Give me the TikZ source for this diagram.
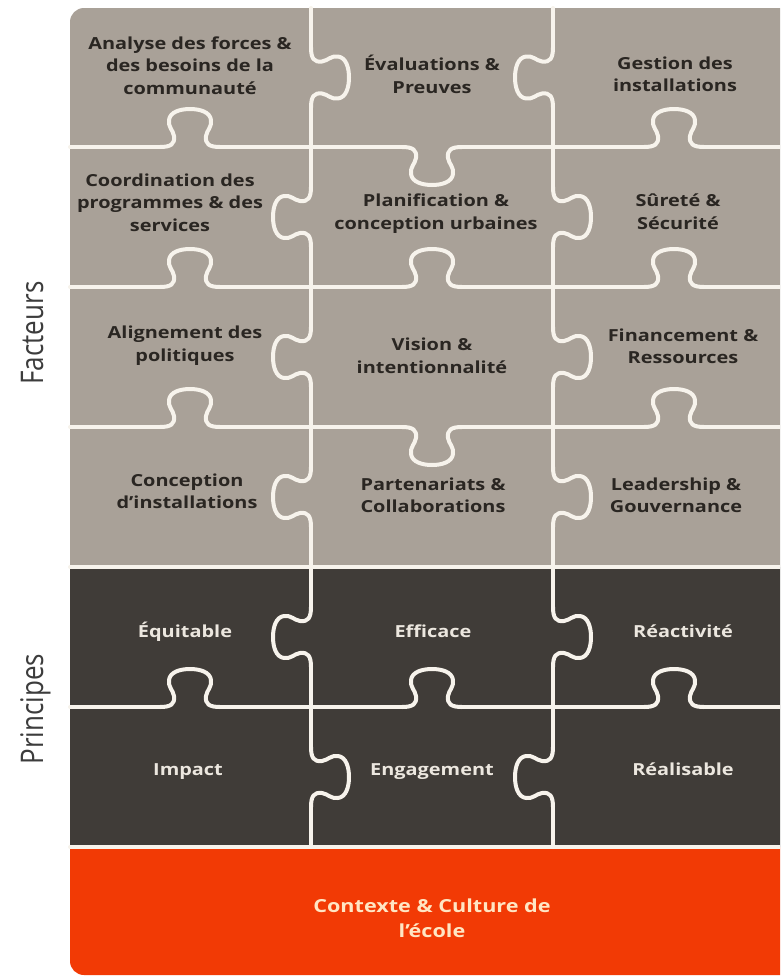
\documentclass[tikz,border=0pt]{standalone}
\usepackage{fontspec}
\usepackage{graphicx}
\newfontfamily\lblfont{Open Sans}[FakeStretch=1.2]
\newfontfamily\sidefont{Open Sans}
\definecolor{beige}{HTML}{A9A198}
\definecolor{darkp}{HTML}{403C38}
\definecolor{orangep}{HTML}{F23A05}
\definecolor{seamc}{HTML}{F7F3EC}
\definecolor{txtd}{HTML}{2A2622}
\definecolor{txtl}{HTML}{ECE7DF}
\definecolor{txto}{HTML}{FFE6C4}
\definecolor{sidec}{HTML}{3C3C3C}
\begin{document}
\begin{tikzpicture}[x=1pt,y=-1pt,
  seam/.style={draw=seamc, line width=4pt, line cap=round, line join=round},
  knob/.pic={\path[seam] (-30,0) .. controls (-19,0) and (-15,3) .. (-16,11)
      .. controls (-17,17) and (-22,20) .. (-21,27)
      .. controls (-20,35) and (-10,38) .. (0,38)
      .. controls (10,38) and (20,35) .. (21,27)
      .. controls (22,20) and (17,17) .. (16,11)
      .. controls (15,3) and (19,0) .. (30,0);},
  lbl/.style={align=center, text=txtd, inner sep=0pt,
      font=\lblfont\bfseries\fontsize{16.6}{22.5}\selectfont},
  lbll/.style={lbl, text=txtl, anchor=base},
  lblo/.style={align=center, text=txto, inner sep=0pt,
      font=\lblfont\bfseries\fontsize{18}{25}\selectfont},
  side/.style={rotate=90, anchor=base, text=sidec, inner sep=0pt,
      font=\sidefont\fontsize{26}{30}\selectfont}]
\useasboundingbox (0,0) rectangle (780,980);
\fill[white] (0,0) rectangle (780,980);
\clip (0,0) rectangle (780,980);
% panels
\begin{scope}
\clip[rounded corners=14pt] (70,8) rectangle (830,975);
\fill[beige] (60,0) rectangle (830,567);
\fill[darkp] (60,567) rectangle (830,847);
\fill[orangep] (60,847) rectangle (830,985);
\end{scope}
% horizontal seams
\path[seam] (70,147)--(160,147) (220,147)--(402,147) (462,147)--(644,147) (704,147)--(800,147);
\path[seam] (70,287)--(160,287) (220,287)--(402,287) (462,287)--(644,287) (704,287)--(800,287);
\path[seam] (70,427)--(160,427) (220,427)--(402,427) (462,427)--(644,427) (704,427)--(800,427);
\path[seam] (70,707)--(160,707) (220,707)--(402,707) (462,707)--(644,707) (704,707)--(800,707);
\path[seam] (70,567)--(800,567);
\path[seam] (70,847)--(800,847);
\pic[yscale=-1] at (190,147) {knob};
\pic at (432,147) {knob};
\pic[yscale=-1] at (674,147) {knob};
\pic[yscale=-1] at (190,287) {knob};
\pic[yscale=-1] at (432,287) {knob};
\pic[yscale=-1] at (674,287) {knob};
\pic[yscale=-1] at (190,427) {knob};
\pic at (432,427) {knob};
\pic[yscale=-1] at (674,427) {knob};
\pic[yscale=-1] at (190,707) {knob};
\pic[yscale=-1] at (432,707) {knob};
\pic[yscale=-1] at (674,707) {knob};
% vertical seams
\foreach \xx in {311,553}{
  \path[seam] (\xx,8)--(\xx,47.5) (\xx,107.5)--(\xx,187) (\xx,247)--(\xx,327)
     (\xx,387)--(\xx,467) (\xx,527)--(\xx,607) (\xx,667)--(\xx,747) (\xx,807)--(\xx,847);
}
\pic[rotate=90] at (311,77.5) {knob};
\pic[rotate=-90] at (311,217) {knob};
\pic[rotate=-90] at (311,357) {knob};
\pic[rotate=-90] at (311,497) {knob};
\pic[rotate=-90] at (311,637) {knob};
\pic[rotate=90] at (311,777) {knob};
\pic[rotate=-90] at (553,77.5) {knob};
\pic[rotate=90] at (553,217) {knob};
\pic[rotate=90] at (553,357) {knob};
\pic[rotate=90] at (553,497) {knob};
\pic[rotate=90] at (553,637) {knob};
\pic[rotate=-90] at (553,777) {knob};
% labels
\node[lbl] (a1) at (190,65.5) {Analyse des forces \&\\des besoins de la\\communauté};
\node[lbl] (a2) at (432,74.5) {Évaluations \&\\Preuves};
\node[lbl] (a3) at (675,74.5) {Gestion des\\installations};
\node[lbl] (b1) at (170,202.5) {Coordination des\\programmes \& des\\services};
\node[lbl] (b2) at (436,213.5) {Planification \&\\conception urbaines};
\node[lbl] (b3) at (678,211.5) {Sûreté \&\\Sécurité};
\node[lbl] (c1) at (185,345.5) {Alignement des\\politiques};
\node[lbl] (c2) at (432,356) {Vision \&\\intentionnalité};
\node[lbl] (c3) at (683,346.5) {Financement \&\\Ressources};
\node[lbl] (d1) at (187,491.5) {Conception\\d’installations};
\node[lbl] (d2) at (433,495.5) {Partenariats \&\\Collaborations};
\node[lbl] (d3) at (676,495.5) {Leadership \&\\Gouvernance};
\node[lbll] (e1) at (185,637) {Équitable};
\node[lbll] (e2) at (433,637) {Efficace};
\node[lbll] (e3) at (683,637) {Réactivité};
\node[lbll] (f1) at (188,775) {Impact};
\node[lbll] (f2) at (432,775) {Engagement};
\node[lbll] (f3) at (683,775) {Réalisable};
\node[lblo] (g1) at (432,918) {Contexte \& Culture de\\l’école};
\node[side] (s1) at (43,333) {\scalebox{1}[1.2]{Facteurs}};
\node[side] (s2) at (43,709) {\scalebox{1}[1.2]{Principes}};
\end{tikzpicture}
\end{document}
